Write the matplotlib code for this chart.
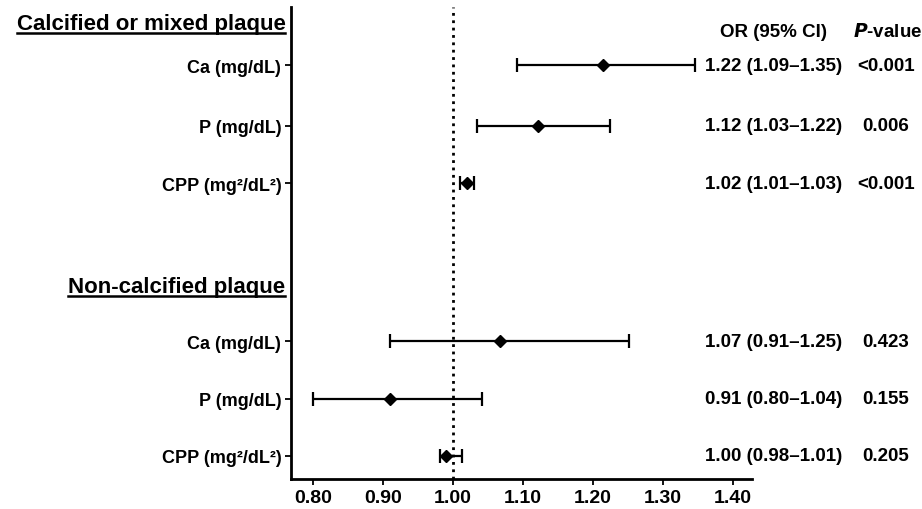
import numpy as np
import matplotlib.pyplot as plt
from matplotlib.transforms import blended_transform_factory
from matplotlib.lines import Line2D

plt.rcParams['font.family'] = ['Liberation Sans', 'DejaVu Sans']
plt.rcParams['font.weight'] = 'bold'

groups = ['Calcified or mixed plaque', 'Non-calcified plaque']
row_labels = ['Ca (mg/dL)', 'P (mg/dL)', 'CPP (mg\u00b2/dL\u00b2)',
              'Ca (mg/dL)', 'P (mg/dL)', 'CPP (mg\u00b2/dL\u00b2)']
or_vals = [1.214, 1.122, 1.02, 1.068, 0.91, 0.99]
ci_low = [1.091, 1.034, 1.01, 0.911, 0.80, 0.981]
ci_high = [1.346, 1.224, 1.03, 1.252, 1.042, 1.013]
or_text = ['1.22 (1.09\u20131.35)', '1.12 (1.03\u20131.22)', '1.02 (1.01\u20131.03)',
           '1.07 (0.91\u20131.25)', '0.91 (0.80\u20131.04)', '1.00 (0.98\u20131.01)']
p_text = ['<0.001', '0.006', '<0.001', '0.423', '0.155', '0.205']
xticks = [0.80, 0.90, 1.00, 1.10, 1.20, 1.30, 1.40]

# row positions (top to bottom), gap between the two groups
ypos = np.array([0, 1.04, 2.02, 4.72, 5.71, 6.68])
header_y = [-0.72, 3.78]

fig = plt.figure(figsize=(9.22, 5.10), dpi=100)
ax = fig.add_axes([0.3156, 0.0588, 0.5, 0.925])

err = [np.array(or_vals) - np.array(ci_low), np.array(ci_high) - np.array(or_vals)]
ax.errorbar(or_vals, ypos, xerr=err, fmt='D', color='black', ms=6,
            elinewidth=1.6, capsize=5, capthick=1.6)
ax.axvline(1.0, color='black', ls=':', lw=2)

ax.set_xlim(0.769, 1.427)
ax.set_ylim(7.08, -0.99)
ax.set_yticks(ypos)
ax.set_yticklabels(row_labels, fontsize=13, fontweight='bold')
ax.set_xticks(xticks)
ax.set_xticklabels(['%.2f' % t for t in xticks], fontsize=14, fontweight='bold')
ax.tick_params(axis='both', length=4, width=1.3, pad=3)
for s in ['top', 'right']:
    ax.spines[s].set_visible(False)
for s in ['left', 'bottom']:
    ax.spines[s].set_linewidth(2)

tr = blended_transform_factory(ax.transAxes, ax.transData)
heads = []
for g, hy in zip(groups, header_y):
    t = ax.text(-0.012, hy, g, transform=tr, ha='right', va='center',
                fontsize=16, fontweight='bold')
    heads.append(t)

# right-hand text columns
for y, ot, pt in zip(ypos, or_text, p_text):
    ax.text(1.046, y, ot, transform=tr, ha='center', va='center', fontsize=13.5, clip_on=False)
    ax.text(1.29, y, pt, transform=tr, ha='center', va='center', fontsize=13.5, clip_on=False)
ax.text(1.046, -0.58, 'OR (95% CI)', transform=tr, ha='center', va='center', fontsize=13.5)
ax.text(1.295, -0.58, '$\\mathbfit{P}$-value', transform=tr, ha='center', va='center', fontsize=13.5)

# underline the group headers
fig.canvas.draw()
inv = fig.transFigure.inverted()
for t in heads:
    bb = t.get_window_extent()
    (x0, y0), (x1, y1) = inv.transform([[bb.x0, bb.y0], [bb.x1, bb.y1]])
    fig.add_artist(Line2D([x0, x1], [y0 + 0.002, y0 + 0.002], color='black', lw=1.8,
                          transform=fig.transFigure))

fig.savefig('out.png', dpi=100)
